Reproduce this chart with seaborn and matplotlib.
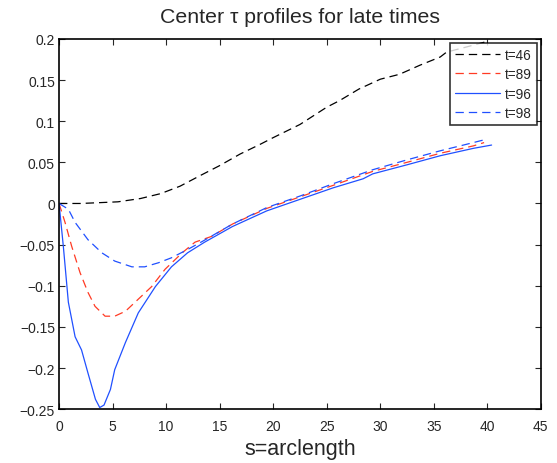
import pandas as pd
import seaborn as sns
import matplotlib.pyplot as plt

# values
s_46 = [0, 2, 3.8, 5.5, 7.6, 9.5, 11.3, 13.2, 15, 16.9, 18.8, 20, 22.5, 25,
        26.2, 28, 30, 31.8, 33.7, 35.6, 36.2, 38, 40]
tau_46 = [0, 0.0, 0.001, 0.002, 0.006, 0.012, 0.021, 0.034, 0.046, 0.060,
          0.072, 0.080, 0.096, 0.117, 0.125, 0.139, 0.151, 0.157, 0.168,
          0.178, 0.184, 0.190, 0.197]

s_89 = [0, 0.56, 1.18, 1.96, 2.7, 3.36, 4.3, 5.2, 6.2, 7.1, 8.65, 9.9, 11.5,
        12.7, 14.25, 16.2, 19.4, 22.5, 25.6, 29.3, 32.5, 35.6, 38.7, 39.7]
tau_89 = [0, -0.023, -0.052, -0.084, -0.108, -0.125, -0.137, -0.137, -0.131,
          -0.120, -0.101, -0.080, -0.060, -0.047, -0.040, -0.025, -0.006,
          0.008, 0.022, 0.039, 0.050, 0.061, 0.070, 0.074]

s_96 = [0, 0.4, 0.87, 1.5, 2.1, 2.7, 3.4, 3.8, 4.2, 4.8, 5.2, 6.2, 7.4, 9.0,
        10.5, 12.0, 13.6, 16.2, 19.4, 22.5, 25.6, 28.4, 29.3, 32.5, 35.6,
        38.7, 40.4]
tau_96 = [0, -0.052, -0.120, -0.162, -0.178, -0.206, -0.238, -0.248, -0.245,
          -0.226, -0.202, -0.169, -0.133, -0.101, -0.077, -0.060, -0.047,
          -0.028, -0.009, 0.005, 0.019, 0.030, 0.036, 0.047, 0.058, 0.067,
          0.071]

s_98 = [0, 0.87, 1.5, 2.7, 4.0, 5.2, 6.8, 8.0, 9.3, 10.5, 12.0, 13.4, 16.2,
        19.4, 22.5, 25.6, 29.3, 32.5, 35.6, 38.7, 39.6]
tau_98 = [0, -0.007, -0.023, -0.044, -0.060, -0.070, -0.077, -0.077, -0.072,
          -0.066, -0.056, -0.046, -0.025, -0.005, 0.009, 0.024, 0.041, 0.053,
          0.064, 0.074, 0.077]

x_ticks = [0, 5, 10, 15, 20, 25, 30, 35, 40, 45]
y_ticks = [-0.25, -0.2, -0.15, -0.1, -0.05, 0, 0.05, 0.1, 0.15, 0.2]
y_tick_labels = ["\u22120.25", "\u22120.2", "\u22120.15", "\u22120.1",
                 "\u22120.05", "0", "0.05", "0.1", "0.15", "0.2"]

series = [
    ("t=46", s_46, tau_46, "black", (6, 3.6)),
    ("t=89", s_89, tau_89, "#ff3b24", (6, 3.6)),
    ("t=96", s_96, tau_96, "#2050ff", None),
    ("t=98", s_98, tau_98, "#2050ff", (6, 3.6)),
]

sns.set_style("ticks")
plt.rcParams["font.family"] = ["Liberation Sans", "DejaVu Sans"]
plt.rcParams["lines.scale_dashes"] = False

fig = plt.figure(figsize=(5.57, 4.64), dpi=100)
ax = fig.add_axes([0.106, 0.116, 0.865, 0.798])

for label, s, tau, color, dash in series:
    df = pd.DataFrame({"s": s, "tau": tau})
    sns.lineplot(data=df, x="s", y="tau", ax=ax, color=color,
                 linewidth=0.9, label=label, sort=False)
    if dash is not None:
        ax.lines[-1].set_dashes(dash)

ax.set_xlim(0, 45)
ax.set_ylim(-0.25, 0.2)
ax.set_xticks(x_ticks)
ax.set_yticks(y_ticks)
ax.set_yticklabels(y_tick_labels)
ax.tick_params(direction="in", length=4, width=0.8, labelsize=10,
               top=True, right=True, pad=3)
ax.tick_params(axis="x", pad=7)
for sp in ax.spines.values():
    sp.set_linewidth(1.2)
    sp.set_color("black")

ax.set_title("Center \u03c4 profiles for late times", fontsize=15.3, pad=12)
ax.set_xlabel("s=arclength", fontsize=15.5, labelpad=4)
ax.set_ylabel("")

leg = ax.legend(loc="upper right", fontsize=9.8, handlelength=3.3,
                frameon=True, fancybox=False, borderaxespad=0.3,
                borderpad=0.35, labelspacing=0.4, handletextpad=0.4)
leg.get_frame().set_edgecolor("black")
leg.get_frame().set_linewidth(1.2)
for h, (_, _, _, _, dash) in zip(leg.get_lines(), series):
    if dash is not None:
        h.set_dashes(dash)

fig.savefig("out.png", dpi=100)
